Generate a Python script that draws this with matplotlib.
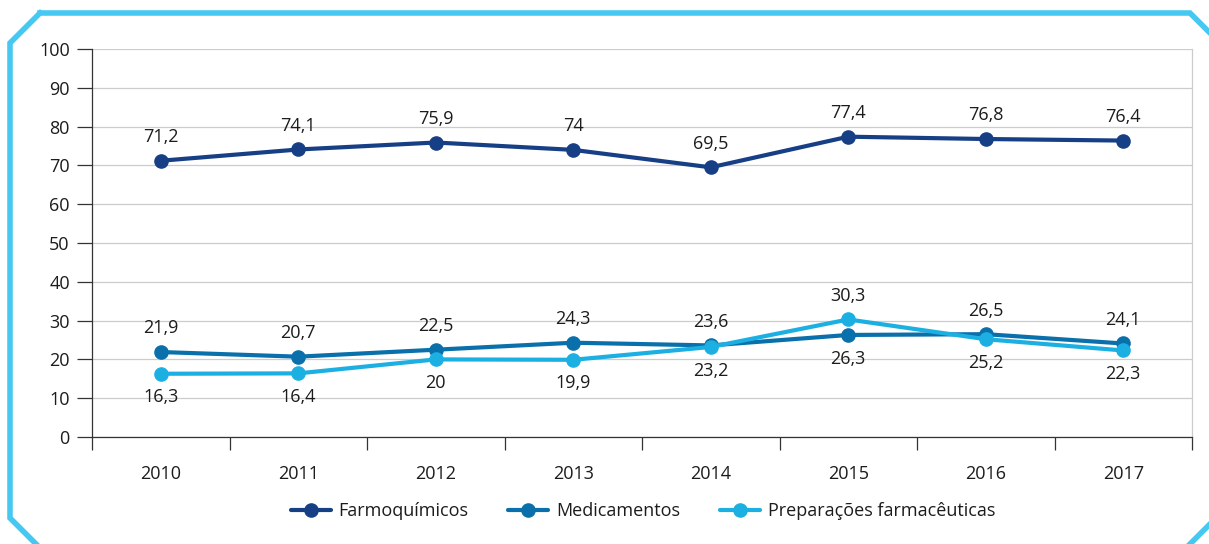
import matplotlib
matplotlib.use("Agg")
import matplotlib.pyplot as plt
from matplotlib.lines import Line2D

plt.rcParams['font.family'] = ['Open Sans', 'DejaVu Sans']

years = ["2010", "2011", "2012", "2013", "2014", "2015", "2016", "2017"]
farmoquimicos = [71.2, 74.1, 75.9, 74.0, 69.5, 77.4, 76.8, 76.4]
medicamentos = [21.9, 20.7, 22.5, 24.3, 23.6, 26.3, 26.5, 24.1]
preparacoes = [16.3, 16.4, 20.0, 19.9, 23.2, 30.3, 25.2, 22.3]
labels_farmo = ["71,2", "74,1", "75,9", "74", "69,5", "77,4", "76,8", "76,4"]
labels_med = ["21,9", "20,7", "22,5", "24,3", "23,6", "26,3", "26,5", "24,1"]
labels_prep = ["16,3", "16,4", "20", "19,9", "23,2", "30,3", "25,2", "22,3"]
med_below = [False, False, False, False, False, True, False, False]
prep_above = [False, False, False, False, False, True, False, False]
series_names = ["Farmoquímicos", "Medicamentos", "Preparações farmacêuticas"]
yticks = [0, 10, 20, 30, 40, 50, 60, 70, 80, 90, 100]

c_farmo = "#173f86"
c_med = "#0a70ab"
c_prep = "#1cb0e2"
txt = "#1c1c1c"

W, H = 1209, 544
fig = plt.figure(figsize=(W / 100, H / 100), dpi=100)
ax = fig.add_axes([92 / W, 1 - 437 / H, (1192 - 92) / W, (437 - 49) / H])

x = list(range(len(years)))
kw = dict(linewidth=3.0, marker="o", markersize=9.5, zorder=3, solid_capstyle="round")
ax.plot(x, farmoquimicos, color=c_farmo, label=series_names[0], **kw)
ax.plot(x, medicamentos, color=c_med, label=series_names[1], **kw)
ax.plot(x, preparacoes, color=c_prep, label=series_names[2], **kw)

fs = 13
off = 17
for i in x:
    ax.annotate(labels_farmo[i], (i, farmoquimicos[i]), xytext=(0, off), textcoords="offset points",
                ha="center", va="center", fontsize=fs, color=txt)
    dy = -off if med_below[i] else off
    ax.annotate(labels_med[i], (i, medicamentos[i]), xytext=(0, dy), textcoords="offset points",
                ha="center", va="center", fontsize=fs, color=txt)
    dy = off if prep_above[i] else -off
    ax.annotate(labels_prep[i], (i, preparacoes[i]), xytext=(0, dy), textcoords="offset points",
                ha="center", va="center", fontsize=fs, color=txt)

ax.set_xlim(-0.5, len(years) - 0.5)
ax.set_ylim(0, 100)
ax.set_yticks(yticks)
ax.set_yticklabels([str(v) for v in yticks])
ax.set_xticks(x)
ax.set_xticklabels(years)
ax.set_xticks([i - 0.5 for i in range(len(years) + 1)], minor=True)
ax.tick_params(axis="x", which="major", length=0, pad=20, labelsize=fs, labelcolor=txt)
ax.tick_params(axis="x", which="minor", length=9.5, width=0.9, color="#333333")
ax.tick_params(axis="y", length=11, width=0.9, color="#333333", pad=5, labelsize=fs, labelcolor=txt)
ax.grid(axis="y", color="#cccccc", linewidth=0.9, zorder=0)
ax.set_axisbelow(True)
ax.spines["top"].set_visible(False)
ax.spines["right"].set_color("#cccccc")
ax.spines["right"].set_linewidth(0.9)
ax.spines["left"].set_color("#333333")
ax.spines["left"].set_linewidth(0.9)
ax.spines["bottom"].set_color("#333333")
ax.spines["bottom"].set_linewidth(0.9)

leg = fig.legend(loc="center", bbox_to_anchor=(643 / W, 1 - 511 / H), ncol=3, frameon=False,
                 fontsize=fs, handlelength=2.2, columnspacing=2.2, handletextpad=0.45)
for t in leg.get_texts():
    t.set_color(txt)

# frame
bc = "#45c8f2"
pts = [(40, 13), (1190, 13), (1212, 35)]
fig.add_artist(Line2D([p[0] / W for p in pts], [1 - p[1] / H for p in pts], color=bc, linewidth=4,
                      transform=fig.transFigure, clip_on=False, solid_joinstyle="miter"))
pts = [(40, 13), (10, 43), (10, 518), (38, 546)]
fig.add_artist(Line2D([p[0] / W for p in pts], [1 - p[1] / H for p in pts], color=bc, linewidth=4,
                      transform=fig.transFigure, clip_on=False, solid_joinstyle="miter"))
pts = [(1188, 546), (1212, 522)]
fig.add_artist(Line2D([p[0] / W for p in pts], [1 - p[1] / H for p in pts], color=bc, linewidth=4,
                      transform=fig.transFigure, clip_on=False))

fig.savefig("out.png", dpi=100)
